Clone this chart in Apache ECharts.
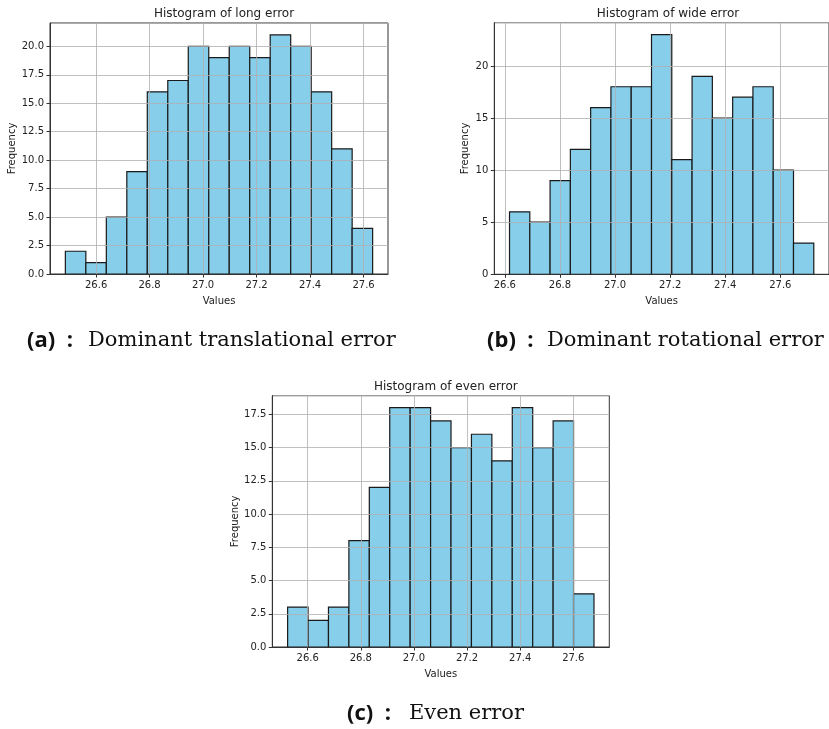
<!DOCTYPE html>
<html>
<head>
<meta charset="utf-8">
<script src="https://cdn.jsdelivr.net/npm/echarts@6/dist/echarts.min.js"></script>
<style>html,body{margin:0;padding:0;background:#fff;}#c{width:829px;height:729px;}</style>
</head>
<body>
<div id="c"></div>
<script>
// ---- data ----
const longEdges = [26.485, 27.634];
const longCounts = [2, 1, 5, 9, 16, 17, 20, 19, 20, 19, 21, 20, 16, 11, 4];
const wideEdges = [26.617, 27.7215];
const wideCounts = [6, 5, 9, 12, 16, 18, 18, 23, 11, 19, 15, 17, 18, 10, 3];
const evenEdges = [26.5245, 27.678];
const evenCounts = [3, 2, 3, 8, 12, 18, 18, 17, 15, 16, 14, 18, 15, 17, 4];
const xTicks = [26.6, 26.8, 27.0, 27.2, 27.4, 27.6];
const titles = ['Histogram of long error', 'Histogram of wide error', 'Histogram of even error'];
const captionTags = ['(a) :', '(b) :', '(c) :'];
const captionTexts = ['Dominant translational error', 'Dominant rotational error', 'Even error'];
const yMaxes = [22.05, 24.15, 18.9];
const yIntervals = [2.5, 5, 2.5];
const yDecimals = [1, 0, 1];

function bins(edges, counts) {
  const n = counts.length, w = (edges[1] - edges[0]) / n;
  return counts.map((c, i) => [edges[0] + i * w, edges[0] + (i + 1) * w, c]);
}
const datasets = [bins(longEdges, longCounts), bins(wideEdges, wideCounts), bins(evenEdges, evenCounts)];
const edgesAll = [longEdges, wideEdges, evenEdges];

// ---- layout ----
const grids = [
  {left: 50, top: 23, width: 338, height: 251},
  {left: 494.3, top: 22.7, width: 337.4, height: 251.6},
  {left: 272.3, top: 395.7, width: 337, height: 251.3}
];
const captionPos = [{tx: 27, sx: 88, y: 341}, {tx: 487, sx: 547, y: 341}, {tx: 347, sx: 409, y: 714}];

const FONT = 'DejaVu Sans';
const chart = echarts.init(document.getElementById('c'), null, {renderer: 'canvas'});

const option = {
  animation: false,
  backgroundColor: '#fff',
  title: [],
  grid: [],
  xAxis: [],
  yAxis: [],
  series: [],
  graphic: []
};

grids.forEach((g, i) => {
  option.grid.push({left: g.left, top: g.top, width: g.width, height: g.height, containLabel: false,
    show: true, borderColor: '#333', borderWidth: 1, backgroundColor: 'transparent', z: 0});
  option.title.push({text: titles[i], left: g.left + g.width / 2, top: g.top - 20, textAlign: 'center',
    textStyle: {fontFamily: FONT, fontSize: 12, fontWeight: 'normal', color: '#222'}});
  const e = edgesAll[i];
  const m = (e[1] - e[0]) * 0.05;
  option.xAxis.push({
    type: 'value', gridIndex: i, min: e[0] - m, max: e[1] + m, z: 5,
    name: 'Values', nameLocation: 'middle', nameGap: 22,
    nameTextStyle: {fontFamily: FONT, fontSize: 10, color: '#222'},
    axisLine: {show: true, onZero: false, lineStyle: {color: '#333', width: 1}},
    axisTick: {show: true, customValues: xTicks, length: 3.5, lineStyle: {color: '#333'}},
    axisLabel: {show: true, customValues: xTicks, fontFamily: FONT, fontSize: 10, color: '#222', margin: 6,
      formatter: v => v.toFixed(1)},
    splitLine: {show: true, lineStyle: {color: '#b0b0b0', width: 0.8}}
  });
  option.yAxis.push({
    type: 'value', gridIndex: i, min: 0, max: yMaxes[i], interval: yIntervals[i], z: 5,
    name: 'Frequency', nameLocation: 'middle', nameGap: i === 1 ? 24 : 30, nameRotate: 90,
    nameTextStyle: {fontFamily: FONT, fontSize: 10, color: '#222'},
    axisLine: {show: true, lineStyle: {color: '#333', width: 1}},
    axisTick: {show: true, length: 3.5, lineStyle: {color: '#333'}},
    axisLabel: {show: true, fontFamily: FONT, fontSize: 10, color: '#222', margin: 6, showMaxLabel: false,
      formatter: v => v.toFixed(yDecimals[i])},
    splitLine: {show: true, lineStyle: {color: '#b0b0b0', width: 0.8}}
  });
  option.series.push({
    type: 'custom', xAxisIndex: i, yAxisIndex: i, z: 2,
    data: datasets[i],
    renderItem: function (params, api) {
      const p0 = api.coord([api.value(0), api.value(2)]);
      const p1 = api.coord([api.value(1), 0]);
      return {type: 'rect', shape: {x: p0[0], y: p0[1], width: p1[0] - p0[0], height: p1[1] - p0[1]},
        style: {fill: '#87CEEB', stroke: '#1a1a1a', lineWidth: 1.2}};
    }
  });
  const cp = captionPos[i];
  option.graphic.push({
    type: 'text', x: cp.tx, y: cp.y,
    style: {text: captionTags[i].replace(' ', '  '), fontFamily: 'Open Sans', fontWeight: 'bold', fontSize: 22,
      fill: '#111', verticalAlign: 'middle', align: 'left'}
  });
  option.graphic.push({
    type: 'text', x: cp.sx, y: cp.y,
    style: {text: captionTexts[i], fontFamily: 'DejaVu Serif', fontSize: 21,
      fill: '#111', verticalAlign: 'middle', align: 'left'}
  });
});

chart.setOption(option);
</script>
</body>
</html>
